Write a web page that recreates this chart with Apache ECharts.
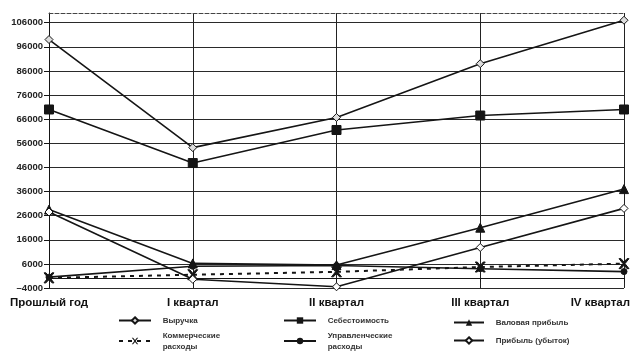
<!DOCTYPE html>
<html><head><meta charset="utf-8">
<script src="https://cdn.jsdelivr.net/npm/echarts@6/dist/echarts.min.js"></script>
<style>html,body{margin:0;padding:0;background:#fff}#c{width:636px;height:361px}</style>
</head><body><div id="c"></div>
<script>
const categories = ['Прошлый год', 'I квартал', 'II квартал', 'III квартал', 'IV квартал'];
const revenue = [99000, 54200, 66700, 89000, 107000];
const cost = [70000, 47800, 61500, 67500, 70000];
const grossProfit = [28500, 6200, 5500, 21000, 37000];
const commercial = [200, 1500, 2700, 4700, 6100];
const admin = [500, 5000, 5300, 4000, 2800];
const profit = [27500, -400, -3500, 12800, 29000];
const seriesNames = ['Выручка', 'Себестоимость', 'Валовая прибыль', 'Коммерческие\nрасходы', 'Управленческие\nрасходы', 'Прибыль (убыток)'];
const yMin = -4000, yMax = 110000, yStep = 10000;

const X_PATH = 'path://M0,0 L2,0 L5,3.5 L8,0 L10,0 L6,5 L10,10 L8,10 L5,6.5 L2,10 L0,10 L4,5 Z';
const ink = '#151515';
const chart = echarts.init(document.getElementById('c'));
const base = {type: 'line', lineStyle: {color: ink, width: 1.6}, itemStyle: {color: ink, borderColor: ink}, z: 3};
const legendText = {fontFamily: 'Arial, Liberation Sans, sans-serif', fontSize: 8, fontWeight: 'bold', color: '#333', lineHeight: 11};
const legendFmt = name => name.split('\n').map(s => '   ' + s).join('\n');
const legendCommon = {orient: 'vertical', itemHeight: 8, height: 80, width: 160, textStyle: legendText, formatter: legendFmt, padding: 0};
chart.setOption({
  animation: false,
  backgroundColor: '#fff',
  grid: {left: 49, right: 12, top: 13, bottom: 73},
  legend: [
    Object.assign({}, legendCommon, {data: [seriesNames[0], seriesNames[3]], left: 118, top: 315, itemWidth: 32, itemGap: 4}),
    Object.assign({}, legendCommon, {data: [seriesNames[1], seriesNames[4]], left: 283, top: 315, itemWidth: 32, itemGap: 4}),
    Object.assign({}, legendCommon, {data: [seriesNames[2], seriesNames[5]], left: 453, top: 317, itemWidth: 30, itemGap: 7})
  ],
  xAxis: [{
    type: 'category',
    data: categories.map((c, i) => i === categories.length - 1 ? {value: c, textStyle: {align: 'right', padding: [0, -6, 0, 0]}} : c),
    boundaryGap: false,
    axisLine: {lineStyle: {color: ink, width: 1}},
    axisTick: {show: true, length: 4, lineStyle: {color: ink}},
    axisLabel: {fontFamily: 'Arial, Liberation Sans, sans-serif', fontSize: 11.5, fontWeight: 'bold', color: '#111', margin: 9},
    splitLine: {show: true, lineStyle: {color: '#222', width: 1}}
  }, {
    type: 'category', position: 'top', data: categories, boundaryGap: false,
    axisLine: {lineStyle: {color: '#444', width: 1, type: [4, 2]}},
    axisTick: {show: false}, axisLabel: {show: false}, splitLine: {show: false}
  }],
  yAxis: {
    type: 'value', min: yMin, max: yMax, interval: yStep,
    axisLine: {show: true, lineStyle: {color: ink}},
    axisTick: {show: true, length: 5, lineStyle: {color: ink}},
    axisLabel: {fontFamily: 'Arial, Liberation Sans, sans-serif', fontSize: 9.5, fontWeight: 'bold', color: '#222', margin: 6, showMaxLabel: false, formatter: v => v < 0 ? '–' + Math.abs(v) : String(v)},
    splitLine: {show: true, showMaxLine: false, lineStyle: {color: '#2a2a2a', width: 1}}
  },
  series: [
    Object.assign({}, base, {name: seriesNames[0], data: revenue, symbol: 'diamond', symbolSize: 8, itemStyle: {color: '#ddd', borderColor: ink, borderWidth: 1}}),
    Object.assign({}, base, {name: seriesNames[1], data: cost, symbol: 'rect', symbolSize: 9}),
    Object.assign({}, base, {name: seriesNames[2], data: grossProfit, symbol: 'triangle', symbolSize: 9}),
    Object.assign({}, base, {name: seriesNames[3], data: commercial, symbol: X_PATH, symbolSize: 10, lineStyle: {color: ink, width: 2, type: [4, 5]}}),
    Object.assign({}, base, {name: seriesNames[4], data: admin, symbol: 'circle', symbolSize: 6}),
    Object.assign({}, base, {name: seriesNames[5], data: profit, symbol: 'diamond', symbolSize: 8, itemStyle: {color: '#fff', borderColor: ink, borderWidth: 1}})
  ]
});
</script></body></html>
